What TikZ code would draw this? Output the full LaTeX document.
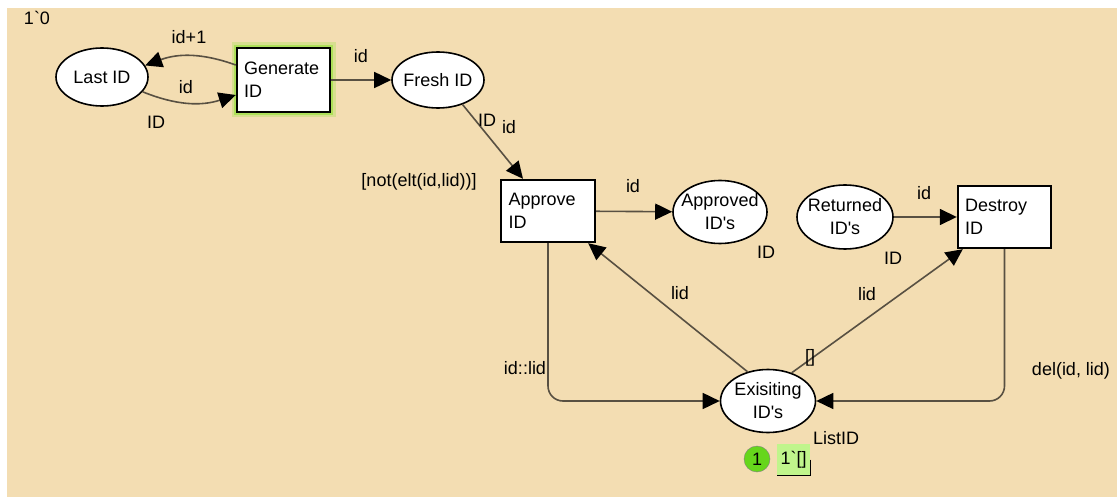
\documentclass[tikz,border=0pt]{standalone}
\usepackage{fontspec}
\setmainfont{Liberation Sans}[Ligatures=TeXOff]
\usetikzlibrary{shapes.geometric,arrows.meta}
\definecolor{bg}{RGB}{243,221,178}
\definecolor{arccol}{RGB}{88,80,66}
\definecolor{glow}{RGB}{150,225,60}
\definecolor{tokgreen}{RGB}{102,214,28}
\definecolor{markgreen}{RGB}{192,245,140}
\newcommand{\lbl}{\fontsize{18}{23}\selectfont}

\begin{document}
\begin{tikzpicture}[x=1pt,y=-1pt,
  place/.style={ellipse,draw,fill=white,line width=1.6pt,minimum width=94pt,minimum height=62pt,inner sep=0pt,
    label={[font=\lbl,align=center]center:#1}},
  trans/.style={rectangle,draw,fill=white,line width=2.4pt,minimum width=93pt,minimum height=63pt,
    text width=79pt,inner xsep=7pt,align=left,font=\lbl},
  arc/.style={draw=arccol,line width=1.6pt,-{Triangle[length=17pt,width=16pt,color=black]}},
  insc/.style={font=\lbl,inner sep=0pt}]
\useasboundingbox (0,0) rectangle (1117,497);
\fill[bg] (7,8) rectangle (1117,497);

\node[place={Last ID},minimum width=92pt,minimum height=58pt] (lastid) at (102,77) {};
\node[trans,minimum height=64pt,preaction={draw=glow!30!bg,line width=11pt},
  preaction={draw=glow!75!bg,line width=6pt}] (gen) at (283.5,80) {Generate\\ID};
\node[place={Fresh ID},minimum width=92pt,minimum height=56pt] (fresh) at (438,80) {};
\node[trans,minimum width=94pt,minimum height=62pt] (approve) at (548,211) {Approve\\ID};
\node[place={Approved\\ID's},minimum height=63pt] (approved) at (720,212) {};
\node[place={Returned\\ID's},minimum width=96pt,minimum height=64pt] (returned) at (845,217) {};
\node[trans,minimum height=62pt] (destroy) at (1004.5,217) {Destroy\\ID};
\node[place={Exisiting\\ID's},minimum width=95pt,minimum height=63pt] (existing) at (768,401) {};

\draw[arc] ([yshift=15pt]gen.west) to[bend right=20] (lastid.15);
\draw[arc] (lastid.-20) to[bend right=20] ([yshift=-15pt]gen.west);
\draw[arc] (gen) -- (fresh);
\draw[arc] (fresh.-45) -- ([xshift=-25pt]approve.north);
\draw[arc] (approve) -- (approved);
\draw[arc] (returned) -- (destroy);
\draw[arc] (existing.125) -- ([xshift=-8pt]approve.south east);
\draw[arc] (existing.50) -- ([xshift=6pt]destroy.south west);
\draw[arc,rounded corners=15pt] (approve.south) |- (existing.west);
\draw[arc,rounded corners=15pt] (destroy.south) |- (existing.east);

\node[insc] (lastinit) at (37,18) {1`0};
\node[insc] (incr) at (189,37) {id+1};
\node[insc] (genin) at (186,87) {id};
\node[insc] (lasttype) at (156,122) {ID};
\node[insc] (genout) at (361,56) {id};
\node[insc] (freshtype) at (487,120) {ID};
\node[insc] (freshout) at (509,127) {id};
\node[insc] (guard) at (419,182) {[not(elt(id,lid))]};
\node[insc] (apprvout) at (633,186) {id};
\node[insc] (apprvtype) at (766,252) {ID};
\node[insc] (retout) at (924,193) {id};
\node[insc] (rettype) at (893,258) {ID};
\node[insc] (readl) at (680,293) {lid};
\node[insc] (readr) at (867,294) {lid};
\node[insc] (emptyl) at (810,358) {[]};
\node[insc] (consl) at (525,368) {id::lid};
\node[insc] (dell) at (1071,371) {del(id, lid)};
\node[insc] (listtype) at (836,438) {ListID};

\node[circle,fill=tokgreen,draw=gray,minimum size=26pt,inner sep=0pt,font=\lbl] (tok) at (757,459) {1};
\node[fill=markgreen,minimum width=33pt,minimum height=31pt,inner sep=0pt,font=\lbl,anchor=north west] (init) at (777,444) {1`[]};
\draw[line width=1.5pt] (init.east) -- (init.south east) -- (init.south west);
\end{tikzpicture}
\end{document}
